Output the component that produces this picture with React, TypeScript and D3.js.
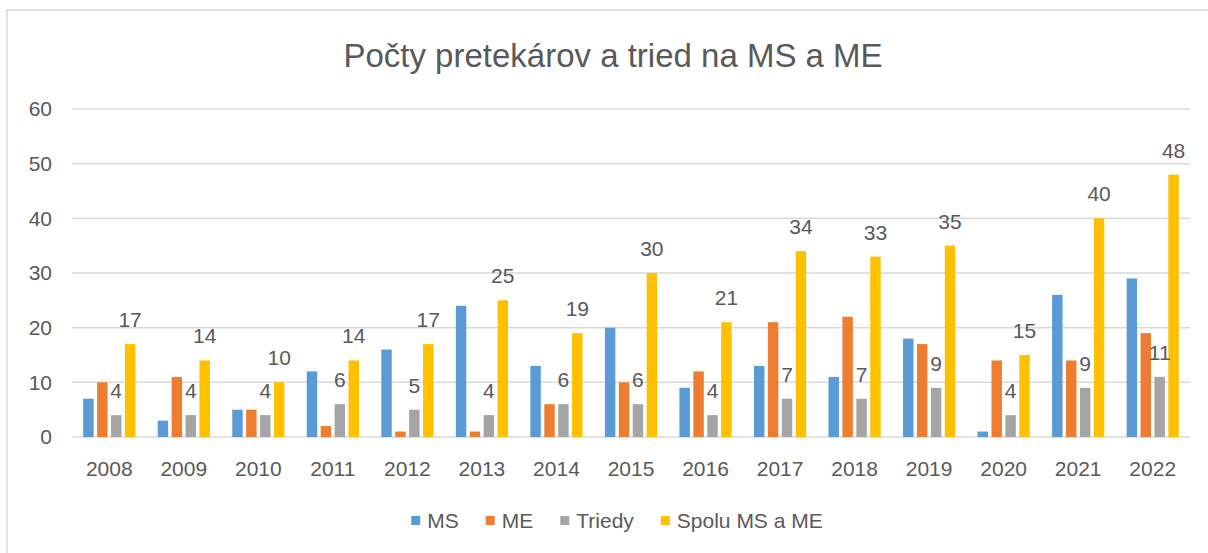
import { useRef, useEffect } from "react";
import * as d3 from "d3";

const years = ["2008", "2009", "2010", "2011", "2012", "2013", "2014", "2015", "2016", "2017", "2018", "2019", "2020", "2021", "2022"];
const msValues = [7, 3, 5, 12, 16, 24, 13, 20, 9, 13, 11, 18, 1, 26, 29];
const meValues = [10, 11, 5, 2, 1, 1, 6, 10, 12, 21, 22, 17, 14, 14, 19];
const triedyValues = [4, 4, 4, 6, 5, 4, 6, 6, 4, 7, 7, 9, 4, 9, 11];
const spoluValues = [17, 14, 10, 14, 17, 25, 19, 30, 21, 34, 33, 35, 15, 40, 48];
const seriesNames = ["MS", "ME", "Triedy", "Spolu MS a ME"];
const seriesColors = ["#5B9BD5", "#ED7D31", "#A5A5A5", "#FFC000"];
const labelledSeries = ["Triedy", "Spolu MS a ME"];
const yTicks = [0, 10, 20, 30, 40, 50, 60];

const width = 1208;
const height = 553;
const textColor = "#595959";
const gridColor = "#D9D9D9";
const font = "'Liberation Sans', Arial, sans-serif";

export default function App() {
  const ref = useRef<SVGSVGElement>(null);

  useEffect(() => {
    const svg = d3.select(ref.current);
    svg.selectAll("*").remove();

    const values = [msValues, meValues, triedyValues, spoluValues];
    const marginLeft = 72;
    const marginRight = 18;
    const yTop = 109;
    const yBottom = 437;

    // chart area border (only left and top visible in the crop)
    svg
      .append("rect")
      .attr("x", 7)
      .attr("y", 10)
      .attr("width", width + 20)
      .attr("height", height + 20)
      .attr("fill", "#fff")
      .attr("stroke", gridColor)
      .attr("stroke-width", 1.5);

    svg
      .append("text")
      .attr("x", 613)
      .attr("y", 67)
      .attr("text-anchor", "middle")
      .attr("font-family", font)
      .attr("font-size", 33)
      .attr("fill", textColor)
      .text("Počty pretekárov a tried na MS a ME");

    const x0 = d3
      .scaleBand()
      .domain(years)
      .range([marginLeft, width - marginRight])
      .paddingInner(0.3)
      .paddingOuter(0.15);
    const x1 = d3
      .scaleBand()
      .domain(seriesNames)
      .range([0, x0.bandwidth()])
      .paddingInner(0.25);
    const y = d3.scaleLinear().domain([0, 60]).range([yBottom, yTop]);

    // gridlines + y labels
    const yAxis = svg.append("g");
    yAxis
      .selectAll("line")
      .data(yTicks)
      .join("line")
      .attr("x1", marginLeft)
      .attr("x2", width - marginRight)
      .attr("y1", (d) => y(d))
      .attr("y2", (d) => y(d))
      .attr("stroke", gridColor)
      .attr("stroke-width", 1.5);
    yAxis
      .selectAll("text")
      .data(yTicks)
      .join("text")
      .attr("x", 52)
      .attr("y", (d) => y(d))
      .attr("dy", "0.35em")
      .attr("text-anchor", "end")
      .attr("font-family", font)
      .attr("font-size", 21)
      .attr("fill", textColor)
      .text((d) => d);

    // bars
    const groups = svg
      .append("g")
      .selectAll("g")
      .data(years)
      .join("g")
      .attr("transform", (d) => `translate(${x0(d)},0)`);

    groups
      .selectAll("rect")
      .data((_, i) => seriesNames.map((s, k) => ({ s, k, v: values[k][i] })))
      .join("rect")
      .attr("x", (d) => x1(d.s)!)
      .attr("y", (d) => y(d.v))
      .attr("width", x1.bandwidth())
      .attr("height", (d) => y(0) - y(d.v))
      .attr("fill", (d) => seriesColors[d.k]);

    groups
      .selectAll("text")
      .data((_, i) =>
        seriesNames
          .map((s, k) => ({ s, k, v: values[k][i] }))
          .filter((d) => labelledSeries.includes(d.s))
      )
      .join("text")
      .attr("x", (d) => x1(d.s)! + x1.bandwidth() / 2)
      .attr("y", (d) => y(d.v) - 17)
      .attr("text-anchor", "middle")
      .attr("font-family", font)
      .attr("font-size", 21)
      .attr("fill", textColor)
      .text((d) => d.v);

    // x labels
    svg
      .append("g")
      .selectAll("text")
      .data(years)
      .join("text")
      .attr("x", (d) => x0(d)! + x0.bandwidth() / 2)
      .attr("y", 476)
      .attr("text-anchor", "middle")
      .attr("font-family", font)
      .attr("font-size", 21)
      .attr("fill", textColor)
      .text((d) => d);

    // legend
    const legend = svg.append("g");
    const items = legend
      .selectAll("g")
      .data(seriesNames)
      .join("g");
    items
      .append("rect")
      .attr("width", 9)
      .attr("height", 9)
      .attr("y", 516)
      .attr("fill", (_, i) => seriesColors[i]);
    items
      .append("text")
      .attr("x", 16)
      .attr("y", 528)
      .attr("font-family", font)
      .attr("font-size", 21)
      .attr("fill", textColor)
      .text((d) => d);

    let cx = 0;
    const offsets: number[] = [];
    items.each(function () {
      offsets.push(cx);
      const w = (d3.select(this).select("text").node() as SVGTextElement).getComputedTextLength();
      cx += 16 + w + 27;
    });
    const total = cx - 27;
    const start = 617 - total / 2;
    items.attr("transform", (_, i) => `translate(${start + offsets[i]},0)`);
  }, []);

  return (
    <svg
      ref={ref}
      width={width}
      height={height}
      style={{ position: "absolute", left: 0, top: 0, background: "#fff" }}
    />
  );
}
